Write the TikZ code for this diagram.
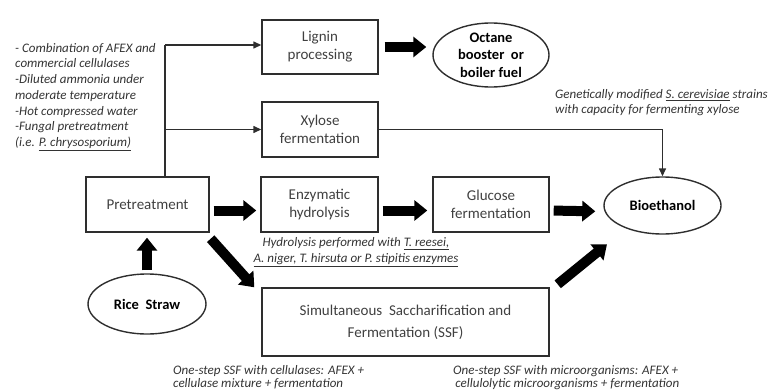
\documentclass[tikz,border=0pt]{standalone}
\usepackage{fontspec}
\setmainfont{Carlito}
\usetikzlibrary{arrows.meta,shapes.geometric,calc}
\definecolor{boxline}{HTML}{2E2E2E}
\definecolor{boxtext}{HTML}{404040}
\definecolor{notetext}{HTML}{333333}
\tikzset{
  procbox/.style={draw=boxline,line width=1.4pt,rectangle,inner sep=0pt,align=center,
    text=boxtext,font=\fontsize{15}{18}\selectfont},
  endpoint/.style={draw=boxline,line width=1.4pt,ellipse,inner sep=0pt,align=center,
    text=black,font=\fontsize{14.5}{17.5}\selectfont\bfseries},
  note/.style={inner sep=0pt,align=left,text=notetext,font=\fontsize{13}{15.7}\selectfont\itshape},
  thinarrow/.style={draw=boxline,line width=1.4pt,-{Triangle[width=7pt,length=8pt]}},
  thinline/.style={draw=boxline,line width=1.4pt},
  fatarrow/.style={draw=black,line width=10pt,-{Triangle[width=20pt,length=13pt]}},
}
\begin{document}
\begin{tikzpicture}[x=1pt,y=-1pt]
\useasboundingbox (0,0) rectangle (770,391);
% boxes
\node[procbox,minimum width=116pt,minimum height=54pt] (lignin) at (320,47) {Lignin\\processing};
\node[endpoint,minimum width=116pt,minimum height=64pt] (octane) at (491,55) {Octane\\booster~ or\\boiler fuel};
\node[procbox,minimum width=116pt,minimum height=55pt] (xylose) at (320,129.5) {Xylose\\fermentation};
\node[procbox,minimum width=123pt,minimum height=55pt] (pre) at (147.5,204.5) {Pretreatment};
\node[procbox,minimum width=117pt,minimum height=55pt] (enz) at (319.5,204.5) {Enzymatic\\hydrolysis};
\node[procbox,minimum width=116pt,minimum height=55pt] (glu) at (491,204.5) {Glucose\\fermentation};
\node[endpoint,minimum width=117pt,minimum height=57pt] (bio) at (662.5,205.5) {Bioethanol};
\node[endpoint,minimum width=118pt,minimum height=60pt] (rice) at (147,304) {Rice~ Straw};
\node[procbox,minimum width=287pt,minimum height=68pt,font=\fontsize{15}{22}\selectfont] (ssf) at (405.5,322) {Simultaneous~ Saccharification and\\Fermentation (SSF)};
% thin connectors
\coordinate (topsplit) at (165,45);
\coordinate (midsplit) at (165,129.5);
\draw[thinline] (pre.north -| topsplit) -- (topsplit);
\draw[thinarrow] (topsplit) -- (topsplit -| lignin.west);
\draw[thinarrow] (midsplit) -- (xylose.west);
\draw[thinarrow] (xylose.east) -| (bio.north);
% fat arrows
\draw[fatarrow,shorten <=6pt,shorten >=6pt] (lignin.east) -- (lignin.east -| octane.west);
\draw[fatarrow,shorten <=4pt,shorten >=4pt] ($(pre.east)+(0,6)$) -- ($(enz.west)+(0,6)$);
\draw[fatarrow,shorten <=4pt,shorten >=5pt] ($(enz.east)+(0,6)$) -- ($(glu.west)+(0,6)$);
\draw[fatarrow,shorten <=4pt,shorten >=8pt] ($(glu.east)+(0,6)$) -- ($(bio.west)+(0,6)$);
\draw[fatarrow,shorten <=3pt,shorten >=5pt] (rice.north) -- (rice.north |- pre.south);
\draw[fatarrow] ($(pre.south east)+(1,6)$) -- ($(ssf.north west)+(-7,0)$);
\draw[fatarrow] ($(ssf.north east)+(8,-3)$) -- ($(bio.south)+(-55.5,9.5)$);
% notes
\node[note,anchor=north west] (notepre) at (15,43) {- Combination of AFEX and\\commercial cellulases\\-Diluted ammonia under\\moderate temperature\\-Hot compressed water\\-Fungal pretreatment\\(i.e. \underline{P. chrysosporium)}};
\node[note,anchor=north west,font=\fontsize{13}{15}\selectfont\itshape] (notexyl) at (555,89) {Genetically modified \underline{S. cerevisiae} strains\\with capacity for fermenting xylose};
\node[note,anchor=north,align=center,font=\fontsize{13}{16}\selectfont\itshape] (noteenz) at (356,237) {Hydrolysis performed with \underline{T. reesei,}\\\underline{A. niger, T. hirsuta or P. stipitis enzymes}};
\node[note,anchor=north west,font=\fontsize{13}{13.6}\selectfont\itshape] (notessf1) at (173,365) {One-step SSF with cellulases: AFEX +\\cellulase mixture + fermentation};
\node[note,anchor=north west,font=\fontsize{13}{13.6}\selectfont\itshape] (notessf2) at (453,365) {One-step SSF with microorganisms: AFEX +\\\,cellulolytic microorganisms + fermentation};
\end{tikzpicture}
\end{document}
